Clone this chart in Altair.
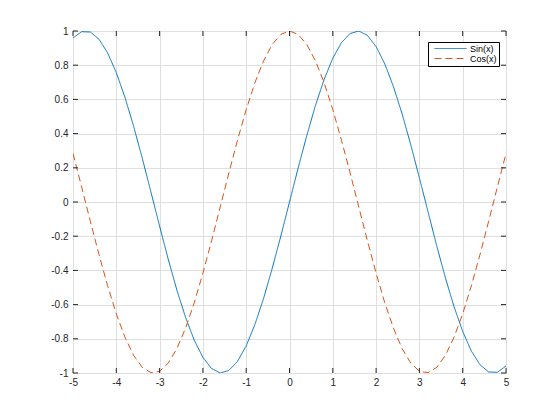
import altair as alt
import pandas as pd

x_vals = [-5.0, -4.8, -4.6, -4.4, -4.2, -4.0, -3.8, -3.6, -3.4, -3.2, -3.0,
          -2.8, -2.6, -2.4, -2.2, -2.0, -1.8, -1.6, -1.4, -1.2, -1.0,
          -0.8, -0.6, -0.4, -0.2, 0.0, 0.2, 0.4, 0.6, 0.8, 1.0,
          1.2, 1.4, 1.6, 1.8, 2.0, 2.2, 2.4, 2.6, 2.8, 3.0,
          3.2, 3.4, 3.6, 3.8, 4.0, 4.2, 4.4, 4.6, 4.8, 5.0]

sin_vals = [0.959, 0.996, 0.994, 0.952, 0.872, 0.757, 0.612, 0.443, 0.256, 0.058, -0.141,
            -0.335, -0.516, -0.675, -0.808, -0.909, -0.974, -1.000, -0.985, -0.932, -0.841,
            -0.717, -0.565, -0.389, -0.199, 0.000, 0.199, 0.389, 0.565, 0.717, 0.841,
            0.932, 0.985, 1.000, 0.974, 0.909, 0.808, 0.675, 0.516, 0.335, 0.141,
            -0.058, -0.256, -0.443, -0.612, -0.757, -0.872, -0.952, -0.994, -0.996, -0.959]

cos_vals = [0.284, 0.087, -0.112, -0.307, -0.490, -0.654, -0.791, -0.897, -0.967, -0.998, -0.990,
            -0.942, -0.857, -0.737, -0.589, -0.416, -0.227, -0.029, 0.170, 0.362, 0.540,
            0.697, 0.825, 0.921, 0.980, 1.000, 0.980, 0.921, 0.825, 0.697, 0.540,
            0.362, 0.170, -0.029, -0.227, -0.416, -0.589, -0.737, -0.857, -0.942, -0.990,
            -0.998, -0.967, -0.897, -0.791, -0.654, -0.490, -0.307, -0.112, 0.087, 0.284]

series_names = ["Sin(x)", "Cos(x)"]
series_colors = ["#0072BD", "#D95319"]

x_ticks = [-5, -4, -3, -2, -1, 0, 1, 2, 3, 4, 5]
y_ticks = [-1.0, -0.8, -0.6, -0.4, -0.2, 0.0, 0.2, 0.4, 0.6, 0.8, 1.0]

W, H = 433, 342

rows = []
for xv, s, c in zip(x_vals, sin_vals, cos_vals):
    rows.append({"x": xv, "y": s, "series": series_names[0]})
    rows.append({"x": xv, "y": c, "series": series_names[1]})
df = pd.DataFrame(rows)

xt = pd.DataFrame({"t": x_ticks})
yt = pd.DataFrame({"t": y_ticks})

xscale = alt.Scale(domain=[-5, 5], nice=False, zero=False)
yscale = alt.Scale(domain=[-1, 1], nice=False, zero=False)

minus_fix = "replace(datum.label, '\u2212', '-')"
xaxis = alt.Axis(values=x_ticks, format="d", grid=True, tickSize=0, labelExpr=minus_fix,
                 domain=False, labelPadding=4, labelOverlap=False, labelFlush=False)
yaxis = alt.Axis(values=y_ticks, format=".1~f", grid=True, tickSize=0, labelExpr=minus_fix,
                 domain=False, labelPadding=5, labelOverlap=False, labelFlush=False)

lines = alt.Chart(df).mark_line(strokeWidth=1, clip=True).encode(
    x=alt.X("x:Q", scale=xscale, title=None, axis=xaxis),
    y=alt.Y("y:Q", scale=yscale, title=None, axis=yaxis),
    color=alt.Color("series:N", scale=alt.Scale(domain=series_names, range=series_colors),
                    title=None,
                    legend=alt.Legend(orient="none", legendX=355, legendY=11,
                                      symbolType="M0,0H20", symbolSize=10.24,
                                      symbolStrokeWidth=1, labelFontSize=9,
                                      labelOffset=31, rowPadding=-4, padding=2,
                                      labelExpr="datum.label + '     '",
                                      strokeColor="#000", fillColor="#fff",
                                      labelColor="#000")),
    strokeDash=alt.StrokeDash("series:N",
                              scale=alt.Scale(domain=series_names, range=[[1, 0], [7, 4]]),
                              title=None, legend=None),
    detail="series:N",
)

tick_len = 5
bottom = alt.Chart(xt).mark_rule(color="#262626", strokeWidth=1).encode(
    x=alt.X("t:Q", scale=xscale, title=None, axis=xaxis),
    y=alt.value(H), y2=alt.value(H - tick_len))
top = alt.Chart(xt).mark_rule(color="#262626", strokeWidth=1).encode(
    x=alt.X("t:Q", scale=xscale, title=None, axis=xaxis),
    y=alt.value(0), y2=alt.value(tick_len))
left = alt.Chart(yt).mark_rule(color="#262626", strokeWidth=1).encode(
    y=alt.Y("t:Q", scale=yscale, title=None, axis=yaxis),
    x=alt.value(0), x2=alt.value(tick_len))
right = alt.Chart(yt).mark_rule(color="#262626", strokeWidth=1).encode(
    y=alt.Y("t:Q", scale=yscale, title=None, axis=yaxis),
    x=alt.value(W), x2=alt.value(W - tick_len))

chart = alt.layer(lines, bottom, top, left, right).properties(
    width=W, height=H,
    autosize=alt.AutoSizeParams(type="none"),
    padding={"left": 65, "top": 23, "right": 46, "bottom": 39},
).configure_view(stroke="#262626", strokeWidth=1).configure_axis(
    gridColor="#dfdfdf", gridWidth=1, labelColor="#262626", labelFontSize=10,
    labelFont="Liberation Sans", labelFontWeight="normal", labelOverlap=False,
).configure_legend(labelFont="Liberation Sans")

chart.save("out.html", embed_options={"renderer": "svg", "actions": False})
